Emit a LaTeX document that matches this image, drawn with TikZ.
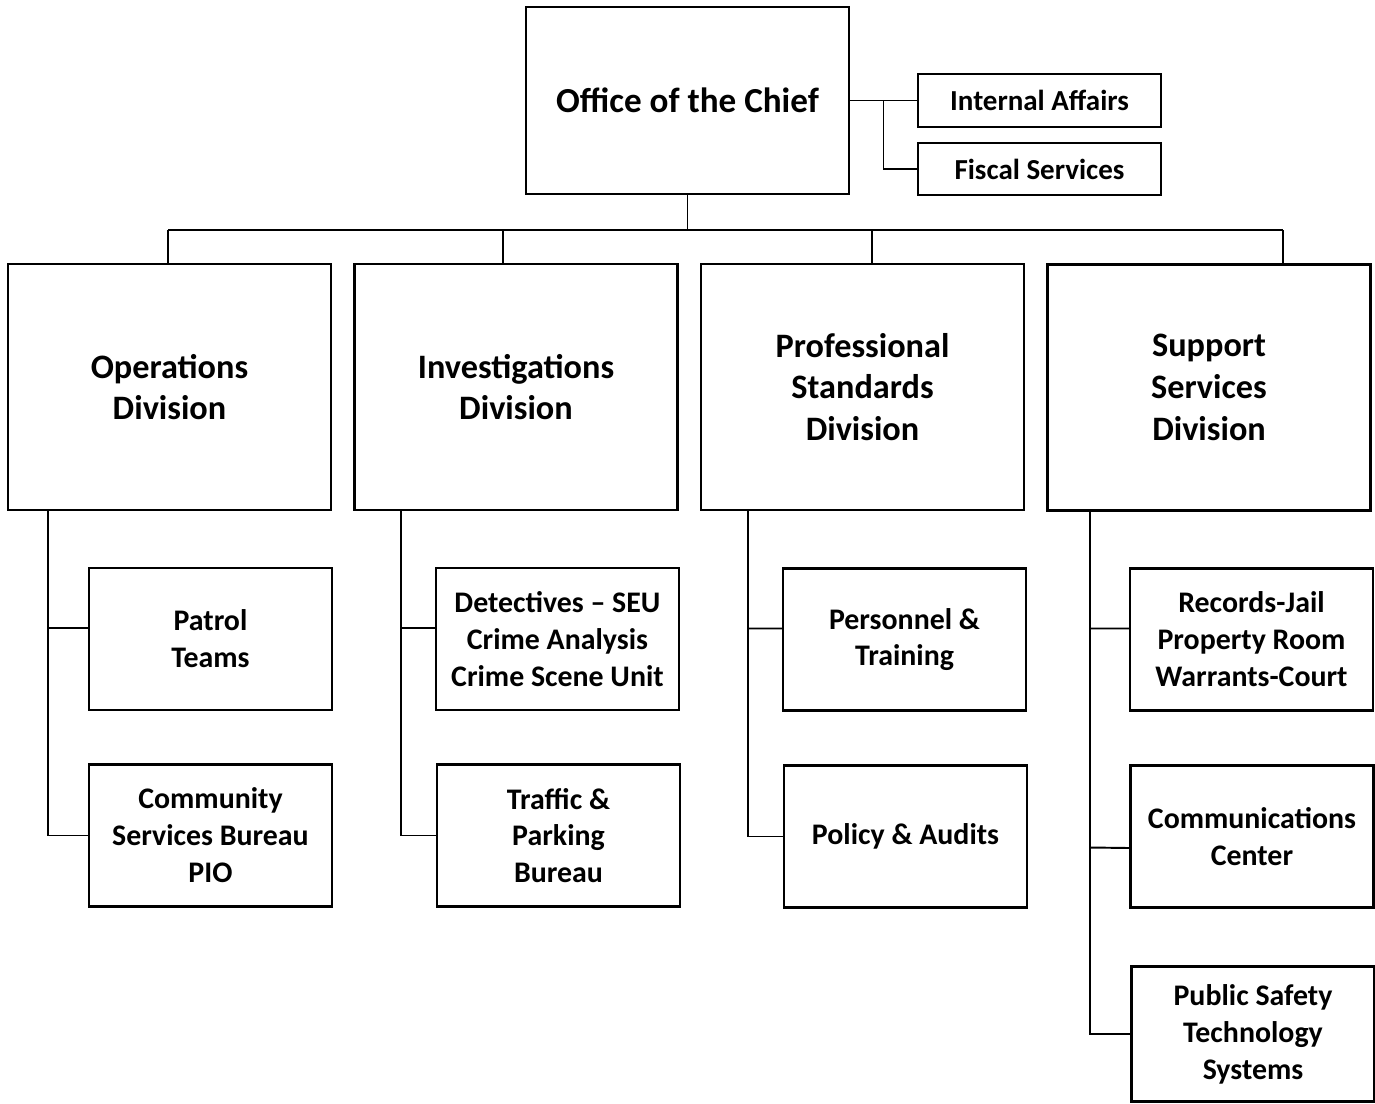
\documentclass[tikz,border=0pt]{standalone}
\usepackage{fontspec}
\setmainfont{Carlito}
\usetikzlibrary{calc}

\tikzset{
  box/.style={draw=black, line width=1.4pt, fill=white, inner sep=0pt, align=center},
  chiefbox/.style={box, minimum width=6.46cm, minimum height=3.74cm, font=\bfseries\fontsize{20}{24}\selectfont},
  sidebox/.style={box, minimum width=4.86cm, minimum height=1.05cm, font=\bfseries\fontsize{16.5}{20}\selectfont},
  divbox/.style={box, minimum width=6.46cm, minimum height=4.92cm, font=\bfseries\fontsize{19.5}{23.8}\selectfont},
  unitbox/.style={box, minimum width=4.86cm, minimum height=2.84cm, font=\bfseries\fontsize{17}{21}\selectfont},
  link/.style={draw=black, line width=1.1pt}
}

\begin{document}
\begin{tikzpicture}[x=0.02cm, y=-0.02cm]
	\useasboundingbox[fill=white] (0,0) rectangle (1375,1103);

	% top
	\node[chiefbox] (chief) at (687.5,100.5) {Office of the Chief};
	\node[sidebox] (ia) at (1039.5,100.5) {Internal Affairs};
	\node[sidebox] (fiscal) at (1039.5,169) {Fiscal Services};

	% divisions
	\node[divbox] (ops) at (169.5,387) {Operations\\Division};
	\node[divbox] (inv) at (516,387) {Investigations\\Division};
	\node[divbox] (prof) at (862.5,387) {Professional\\Standards\\Division};
	\node[divbox] (sup) at (1209,387.5) {Support\\Services\\Division};

	% units
	\node[unitbox] (patrol) at (210.5,639) {Patrol\\Teams};
	\node[unitbox] (community) at (210.5,835.5) {Community\\Services Bureau\\PIO};
	\node[unitbox] (detectives) at (557.5,639) {Detectives -- SEU\\Crime Analysis\\Crime Scene Unit};
	\node[unitbox] (traffic) at (558.5,835.5) {Traffic \&\\Parking\\Bureau};
	\node[unitbox] (personnel) at (904.5,639.5) {Personnel \&\\Training};
	\node[unitbox] (policy) at (905.5,836.5) {Policy \& Audits};
	\node[unitbox] (records) at (1251.5,639.5) {Records-Jail\\Property Room\\Warrants-Court};
	\node[unitbox] (comms) at (1252,836.5) {Communications\\Center};
	\node[unitbox, minimum height=2.7cm] (pubsafety) at (1253,1034) {Public Safety\\Technology\\Systems};

	% connectors
	\draw[link] (chief.east) -- (ia.west);
	\draw[link] ($(chief.east)!0.5!(ia.west)$) |- (fiscal.west);

	\coordinate (bus) at (687.5,230);
	\draw[link] (chief.south) -- (bus);
	\draw[link] (168,230) -- (1283,230);
	\foreach \d/\x in {ops/168, inv/503, prof/872, sup/1283}
	{
		\draw[link] (\x,230) -- (\x,0 |- \d.north);
	}

	\draw[link] (ops.south -| 48,0) |- (community.west);
	\draw[link] (48,0 |- patrol.west) ++(0,-11) -- ([yshift=0.22cm]patrol.west);
	\draw[link] (inv.south -| 401,0) |- (traffic.west);
	\draw[link] (401,0 |- detectives.west) ++(0,-11) -- ([yshift=0.22cm]detectives.west);
	\draw[link] (prof.south -| 748,0) |- (policy.west);
	\draw[link] (748,0 |- personnel.west) ++(0,-11) -- ([yshift=0.22cm]personnel.west);
	\draw[link] (sup.south -| 1090,0) |- (pubsafety.west);
	\draw[link] (1090,0 |- records.west) ++(0,-11) -- ([yshift=0.22cm]records.west);
	\draw[link] (1090,0 |- comms.west) ++(0,11) -- ([yshift=-0.23cm]comms.west);
\end{tikzpicture}
\end{document}
